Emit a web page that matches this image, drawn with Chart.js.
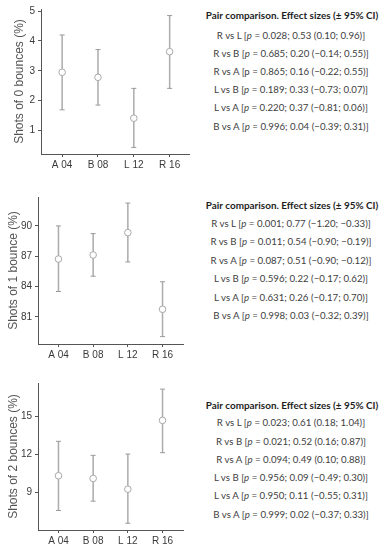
<!DOCTYPE html>
<html>
<head>
<meta charset="utf-8">
<script src="https://cdn.jsdelivr.net/npm/chart.js@4.4.0/dist/chart.umd.min.js"></script>
<style>
  body { margin: 0; background: #fff; }
  #wrap { position: relative; width: 384px; height: 550px; overflow: hidden; }
  canvas { position: absolute; left: 0; }
  .tbl { position: absolute; left: 200px; width: 184px; font-family: Lato, "Open Sans", sans-serif; color: #404040; }
  .tbl div { position: absolute; left: 0; width: 182px; text-align: center; white-space: nowrap; height: 18px; line-height: 18px; }
  .tbl .head { font-weight: bold; color: #1e1e1e; left: 1px; }
</style>
</head>
<body>
<div id="wrap">
  <canvas id="c0" width="200" height="175" style="top:0px"></canvas>
  <canvas id="c1" width="200" height="185" style="top:180px"></canvas>
  <canvas id="c2" width="200" height="185" style="top:365px"></canvas>
  <div class="tbl" id="t0" style="top:0px"></div>
  <div class="tbl" id="t1" style="top:180px"></div>
  <div class="tbl" id="t2" style="top:365px"></div>
</div>
<script>
// categories (ball type / pressure)
const categories = ['A 04', 'B 08', 'L 12', 'R 16'];

// shots of 0 bounces (%): mean and 95% CI
const zeroMean = [2.95, 2.78, 1.41, 3.64];
const zeroLow = [1.69, 1.85, 0.43, 2.41];
const zeroHigh = [4.20, 3.71, 2.41, 4.85];
const zeroTicks = [1, 2, 3, 4, 5];

// shots of 1 bounce (%)
const oneMean = [86.73, 87.13, 89.34, 81.76];
const oneLow = [83.52, 85.03, 86.44, 79.06];
const oneHigh = [90.00, 89.24, 92.26, 84.48];
const oneTicks = [81, 84, 87, 90];

// shots of 2 bounces (%)
const twoMean = [10.32, 10.11, 9.27, 14.66];
const twoLow = [7.60, 8.33, 6.60, 12.13];
const twoHigh = [13.02, 11.92, 12.02, 17.11];
const twoTicks = [9, 12, 15];

// pair comparison text
const tableTitle = 'Pair comparison. Effect sizes (± 95% CI)';
const zeroPairs = [
  ['R vs L', true, '0.028; 0.53 (0.10; 0.96)]'],
  ['R vs B', true, '0.685; 0.20 (−0.14; 0.55)]'],
  ['R vs A', false, '0.865; 0.16 (−0.22; 0.55)]'],
  ['L vs B', true, '0.189; 0.33 (−0.73; 0.07)]'],
  ['L vs A', true, '0.220; 0.37 (−0.81; 0.06)]'],
  ['B vs A', true, '0.996; 0.04 (−0.39; 0.31)]']
];
const onePairs = [
  ['R vs L', true, '0.001; 0.77 (−1.20; −0.33)]'],
  ['R vs B', true, '0.011; 0.54 (−0.90; −0.19)]'],
  ['R vs A', true, '0.087; 0.51 (−0.90; −0.12)]'],
  ['L vs B', true, '0.596; 0.22 (−0.17; 0.62)]'],
  ['L vs A', true, '0.631; 0.26 (−0.17; 0.70)]'],
  ['B vs A', true, '0.998; 0.03 (−0.32; 0.39)]']
];
const twoPairs = [
  ['R vs L', true, '0.023; 0.61 (0.18; 1.04)]'],
  ['R vs B', true, '0.021; 0.52 (0.16; 0.87)]'],
  ['R vs A', true, '0.094; 0.49 (0.10; 0.88)]'],
  ['L vs B', true, '0.956; 0.09 (−0.49; 0.30)]'],
  ['L vs A', true, '0.950; 0.11 (−0.55; 0.31)]'],
  ['B vs A', true, '0.999; 0.02 (−0.37; 0.33)]']
];

// draws one panel: mean points with CI whiskers
function drawPanel(id, mean, low, high, ticks, yTitle, opt) {
  const whisker = [];
  const caps = [];
  categories.forEach((c, i) => {
    whisker.push({x: i, y: low[i]}, {x: i, y: high[i]}, {x: i, y: null});
    caps.push({x: i, y: low[i]}, {x: i, y: high[i]});
  });
  const means = mean.map((v, i) => ({x: i, y: v}));

  new Chart(document.getElementById(id), {
    type: 'scatter',
    data: {
      datasets: [
        {
          data: means, pointStyle: 'circle', pointRadius: 3.3,
          backgroundColor: '#ffffff', borderColor: '#a9a9a9', borderWidth: 1
        },
        {
          data: caps, pointStyle: 'line', pointRadius: 2.5,
          borderColor: '#9a9a9a', borderWidth: 1
        },
        {
          type: 'line', data: whisker, borderColor: '#acacac', borderWidth: 1.5,
          pointRadius: 0, spanGaps: false
        }
      ]
    },
    options: {
      responsive: false,
      animation: false,
      devicePixelRatio: 1,
      layout: { padding: { top: opt.top, right: opt.right, left: 0, bottom: 0 } },
      plugins: { legend: { display: false }, tooltip: { enabled: false } },
      scales: {
        x: {
          type: 'linear', min: opt.xMin, max: opt.xMax,
          afterBuildTicks: s => { s.ticks = categories.map((c, i) => ({ value: i })); },
          afterFit: s => { s.height = opt.xh; },
          ticks: {
            callback: v => categories[v], autoSkip: false, maxRotation: 0,
            font: { family: 'Liberation Sans', size: 10 }, color: '#3a3a3a', padding: 2
          },
          grid: { drawOnChartArea: false, tickLength: 3, color: '#555' },
          border: { color: '#555', width: 1 }
        },
        y: {
          min: opt.yMin, max: opt.yMax,
          afterBuildTicks: s => { s.ticks = ticks.map(v => ({ value: v })); },
          afterFit: s => { s.width = opt.yw; },
          ticks: { font: { family: 'Liberation Sans', size: 10 }, color: '#3a3a3a', padding: 3 },
          grid: { drawOnChartArea: false, tickLength: 3, color: '#555' },
          border: { color: '#555', width: 1 },
          title: {
            display: true, text: yTitle, color: '#555',
            font: { family: 'Liberation Sans', size: 12 },
            padding: { top: opt.tp, bottom: 0 }
          }
        }
      }
    }
  });
}

drawPanel('c0', zeroMean, zeroLow, zeroHigh, zeroTicks, 'Shots of 0 bounces (%)',
  { top: 7, right: 11, xh: 21, yw: 41, tp: 12, xMin: -0.59, xMax: 3.54, yMin: 0.21, yMax: 5.07 });
drawPanel('c1', oneMean, oneLow, oneHigh, oneTicks, 'Shots of 1 bounce (%)',
  { top: 17, right: 17, xh: 21, yw: 38, tp: 6, xMin: -0.59, xMax: 3.59, yMin: 78.33, yMax: 92.86 });
drawPanel('c2', twoMean, twoLow, twoHigh, twoTicks, 'Shots of 2 bounces (%)',
  { top: 18, right: 17, xh: 20, yw: 38, tp: 6, xMin: -0.59, xMax: 3.59, yMin: 6.07, yMax: 17.59 });

// fit the fonts so the title and rows span the same widths as the picture
const meas = document.createElement('canvas').getContext('2d');
meas.font = 'bold 12px Lato';
const headSize = 12 * 173 / meas.measureText(tableTitle).width;
meas.font = '12px Lato';
const rowSize = 12 * 149 / meas.measureText('R vs L [p = 0.028; 0.53 (0.10; 0.96)]').width;

// comparison tables as plain text
function fillTable(id, pairs, titleY, rowY) {
  const el = document.getElementById(id);
  const head = document.createElement('div');
  head.className = 'head';
  head.textContent = tableTitle;
  head.style.fontSize = headSize.toFixed(2) + 'px';
  head.style.top = (titleY - 9) + 'px';
  el.appendChild(head);
  pairs.forEach((p, i) => {
    const row = document.createElement('div');
    row.style.top = (rowY[i] - 9) + 'px';
    row.style.fontSize = rowSize.toFixed(2) + 'px';
    const pv = p[1] ? '<i>p</i>' : 'p';
    row.innerHTML = p[0] + ' [' + pv + ' = ' + p[2];
    el.appendChild(row);
  });
}

fillTable('t0', zeroPairs, 15, [34.7, 52.7, 71, 89.3, 107.3, 126]);
fillTable('t1', onePairs, 25, [43.3, 61.3, 80, 98, 116.7, 135]);
fillTable('t2', twoPairs, 40, [57.3, 75.7, 94, 112.3, 130.3, 148.7]);
</script>
</body>
</html>
